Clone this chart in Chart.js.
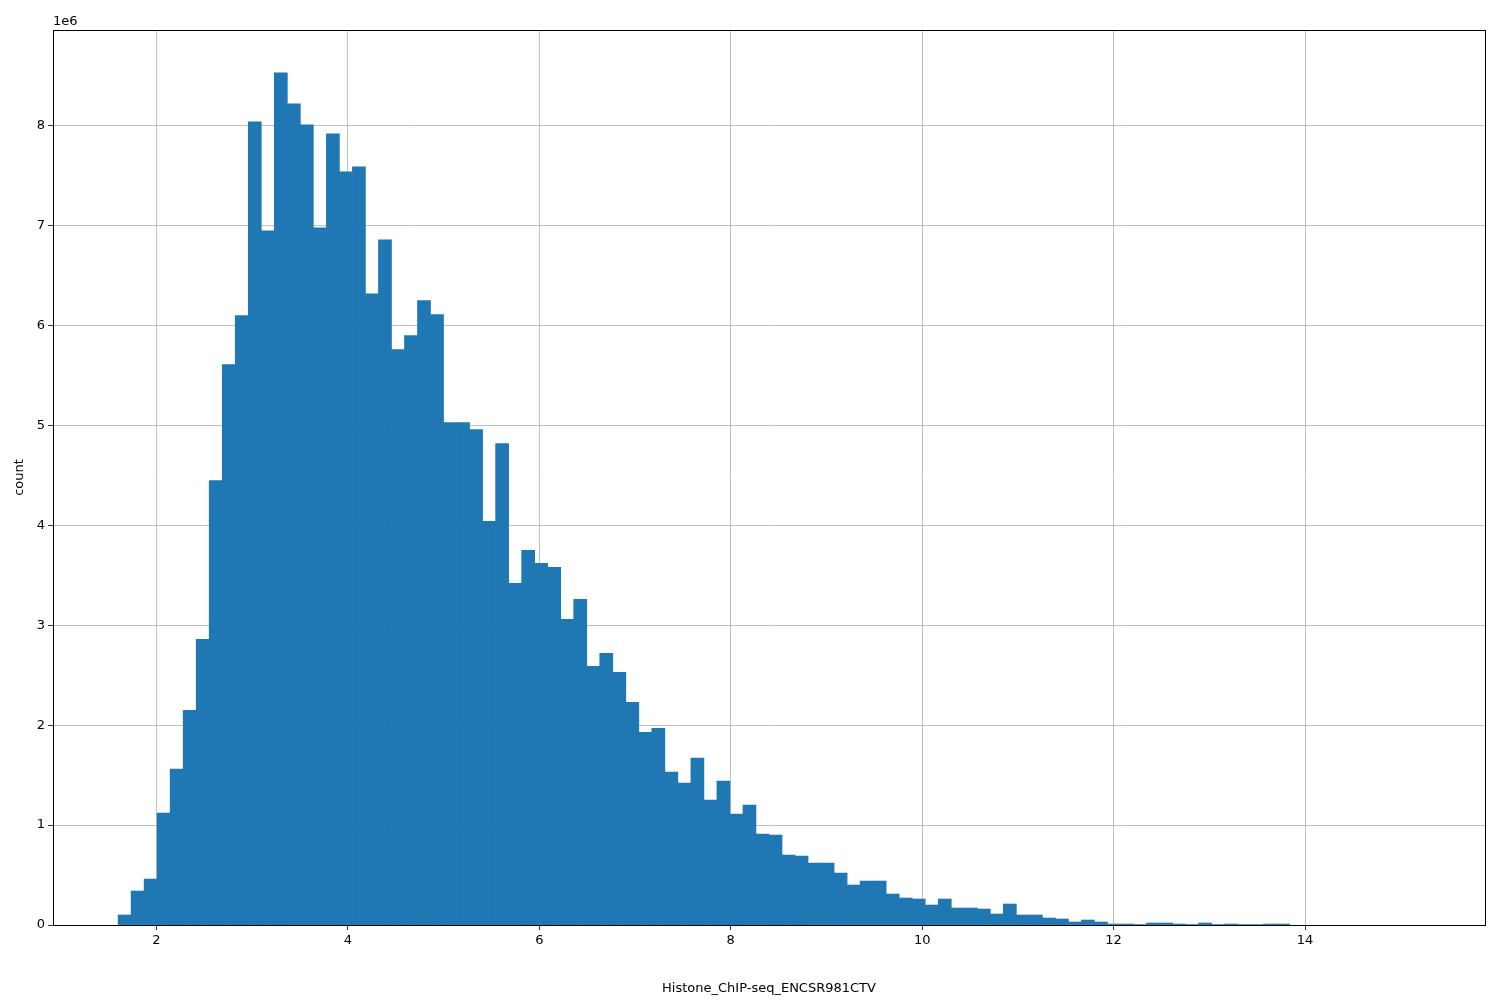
<!DOCTYPE html>
<html>
<head>
<meta charset="utf-8">
<script src="https://cdn.jsdelivr.net/npm/chart.js@4"></script>
<style>
  html, body { margin: 0; padding: 0; background: #fff; }
  #wrap { width: 1500px; height: 1000px; }
</style>
</head>
<body>
<div id="wrap"><canvas id="hist"></canvas></div>
<script>
// histogram: 100 bins from 1.6 to 15.2
const binStart = 1.6;
const binWidth = 0.136;
// counts in millions
const countsM = [
  0.10, 0.34, 0.46, 1.12, 1.56, 2.15, 2.86, 4.45, 5.61, 6.10,
  8.04, 6.95, 8.53, 8.22, 8.01, 6.98, 7.92, 7.54, 7.59, 6.32,
  6.86, 5.76, 5.90, 6.25, 6.11, 5.03, 5.03, 4.96, 4.04, 4.82,
  3.42, 3.75, 3.62, 3.58, 3.06, 3.26, 2.59, 2.72, 2.53, 2.23,
  1.93, 1.97, 1.53, 1.42, 1.67, 1.25, 1.44, 1.11, 1.20, 0.91,
  0.90, 0.70, 0.69, 0.62, 0.62, 0.52, 0.40, 0.44, 0.44, 0.31,
  0.27, 0.26, 0.20, 0.26, 0.17, 0.17, 0.16, 0.11, 0.21, 0.10,
  0.10, 0.07, 0.06, 0.03, 0.05, 0.03, 0.01, 0.01, 0.005, 0.02,
  0.02, 0.01, 0.005, 0.02, 0.005, 0.01, 0.003, 0.005, 0.01, 0.01,
  0, 0, 0, 0, 0, 0, 0, 0, 0, 0
];
const xTicks = [2, 4, 6, 8, 10, 12, 14];
const yTicks = [0, 1, 2, 3, 4, 5, 6, 7, 8];

// empty bins are left out (null) so no hairline is drawn for them
const points = countsM.map((c, i) => ({ x: binStart + binWidth * (i + 0.5), y: c > 0 ? c * 1e6 : null }));

const frame = {
  id: 'frame',
  afterDraw(chart) {
    const { ctx, chartArea: a } = chart;
    ctx.save();
    ctx.strokeStyle = '#000';
    ctx.lineWidth = 1;
    ctx.strokeRect(a.left + 0.5, a.top + 0.5, a.right - a.left, a.bottom - a.top);
    ctx.fillStyle = '#000';
    ctx.font = '13px "DejaVu Sans"';
    ctx.textAlign = 'left';
    ctx.textBaseline = 'bottom';
    ctx.fillText('1e6', a.left, a.top - 2);
    ctx.restore();
  }
};

const ctx = document.getElementById('hist').getContext('2d');
new Chart(ctx, {
  type: 'bar',
  data: {
    datasets: [{
      data: points,
      backgroundColor: '#1f77b4',
      borderWidth: 0,
      barPercentage: 1.0,
      categoryPercentage: 1.0,
      grouped: false
    }]
  },
  options: {
    responsive: true,
    maintainAspectRatio: false,
    animation: false,
    layout: { padding: { top: 30, right: 15, left: 8, bottom: 0 } },
    plugins: { legend: { display: false }, tooltip: { enabled: false } },
    scales: {
      x: {
        type: 'linear',
        min: 0.92,
        max: 15.88,
        offset: false,
        z: 1,
        afterBuildTicks: s => { s.ticks = xTicks.map(v => ({ value: v })); },
        afterFit: s => { s.height = 75; },
        grid: { offset: false, color: '#b0b0b0', lineWidth: 0.8, drawTicks: true, tickLength: 5, tickColor: '#000' },
        border: { color: '#000' },
        ticks: { color: '#000', font: { family: 'DejaVu Sans', size: 13 }, padding: 3, maxRotation: 0 },
        title: { display: true, text: 'Histone_ChIP-seq_ENCSR981CTV', color: '#000', font: { family: 'DejaVu Sans', size: 13 }, padding: { top: 18 } }
      },
      y: {
        min: 0,
        max: 8.96e6,
        z: 1,
        afterBuildTicks: s => { s.ticks = yTicks.map(v => ({ value: v * 1e6 })); },
        afterFit: s => { s.width = 45; },
        grid: { color: '#b0b0b0', lineWidth: 0.8, tickLength: 5, tickColor: '#000' },
        border: { color: '#000' },
        ticks: { color: '#000', font: { family: 'DejaVu Sans', size: 13 }, padding: 3, callback: v => String(v / 1e6) },
        title: { display: true, text: 'count', color: '#000', font: { family: 'DejaVu Sans', size: 13 }, padding: { bottom: 4 } }
      }
    }
  },
  plugins: [frame]
});
</script>
</body>
</html>
